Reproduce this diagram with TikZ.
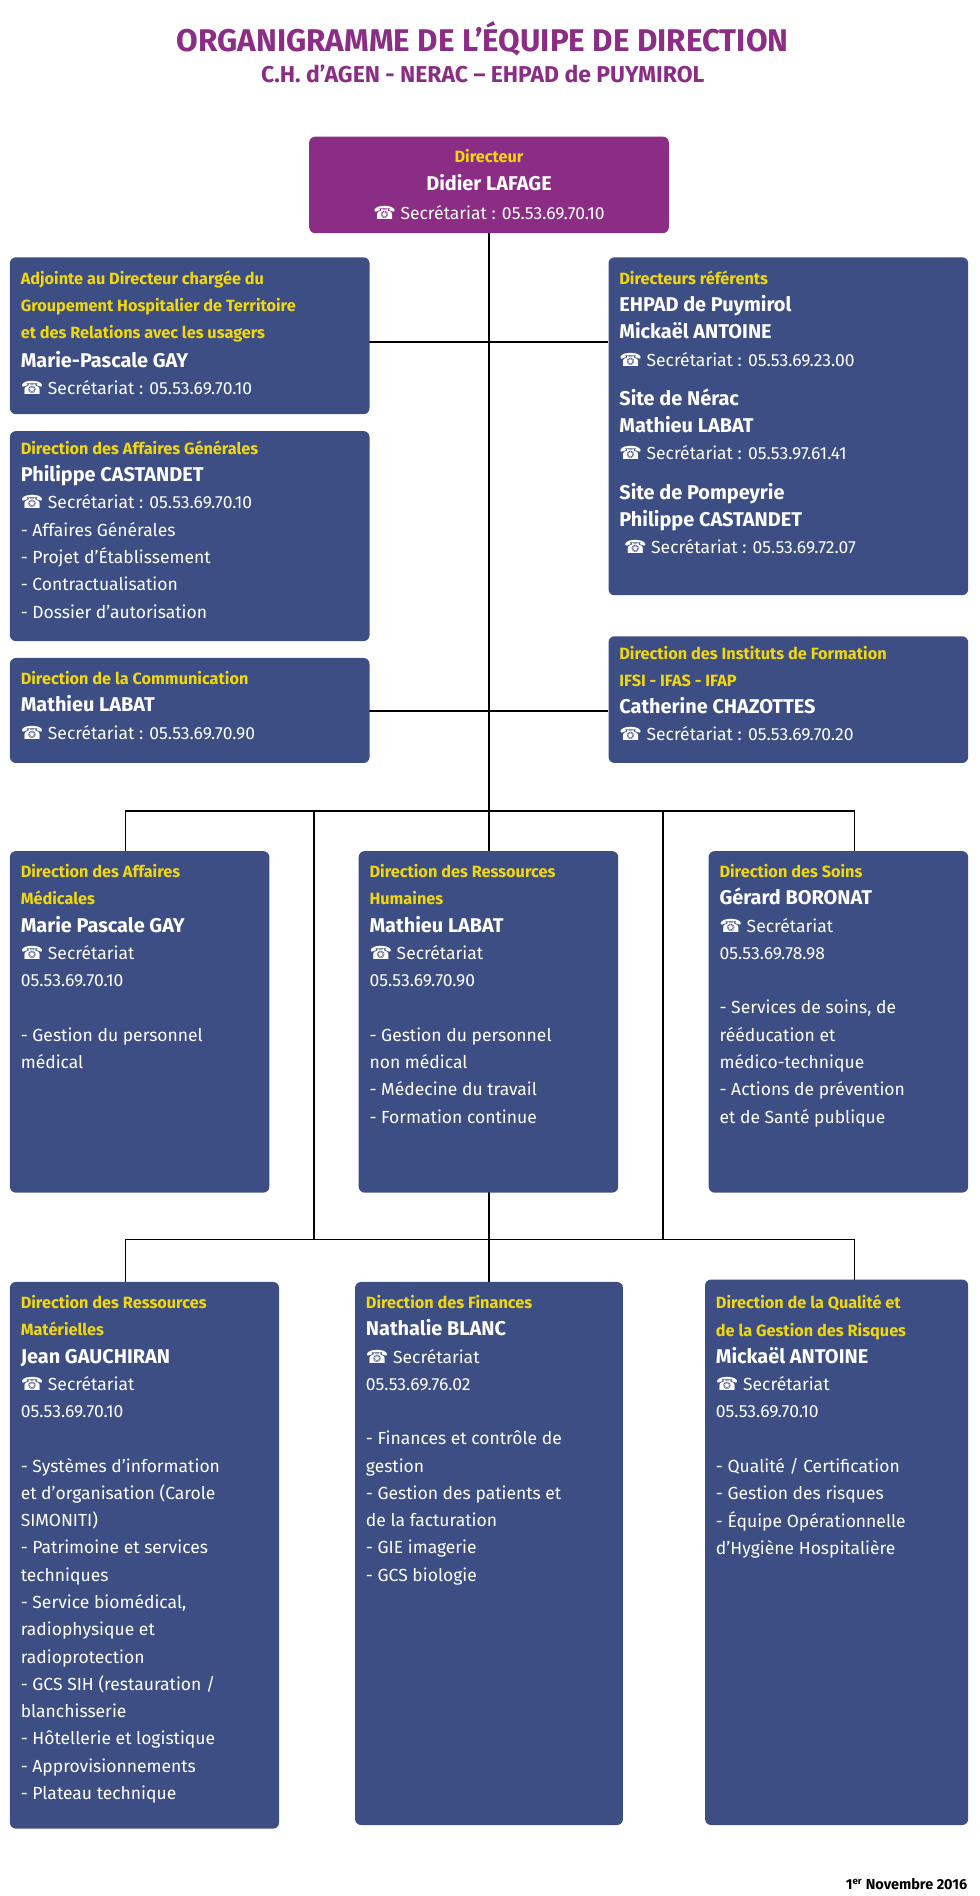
\documentclass[tikz,border=0pt]{standalone}
\usepackage{fontspec}
\setmainfont{Fira Sans}
\newfontfamily\symfont{DejaVu Sans}
\usepackage{xcolor}
\usetikzlibrary{positioning}
\definecolor{orgpurple}{HTML}{8B2D84}
\definecolor{orgblue}{HTML}{3D4E84}
\definecolor{orgyellow}{HTML}{F0D70F}
\newcommand{\hd}[1]{{\color{orgyellow}\bfseries\fontsize{13.5}{20}\selectfont #1}}
\newcommand{\nm}[1]{{\bfseries\fontsize{16.5}{23}\selectfont #1}}
\newcommand{\tel}{{\symfont\fontsize{15}{20}\selectfont ☎}\ }
\tikzset{
  orgbox/.style={fill=orgblue, rounded corners=5pt, inner sep=0pt, anchor=north west},
  orgtext/.style={text=white, align=left, inner sep=0pt, anchor=north west,
    font=\fontsize{14.5}{22.6}\selectfont},
  link/.style={line width=1.6pt, black}
}
\begin{document}
\begin{tikzpicture}[x=1pt, y=-1pt]
    \useasboundingbox (0,0) rectangle (812,1571);
    % Title
    \node[text=orgpurple, font=\bfseries\fontsize{26}{30}\selectfont] (title) at (400,32) {ORGANIGRAMME DE L’ÉQUIPE DE DIRECTION};
    \node[text=orgpurple, font=\bfseries\fontsize{19}{24}\selectfont] (subtitle) at (400,61) {C.H. d’AGEN - NERAC – EHPAD de PUYMIROL};

    % Connectors (drawn first, under the boxes)
    \coordinate (r2) at (405,672);
    \coordinate (r3) at (405,1027);
    \draw[link] (405,193) -- (405,1062);
    \draw[link] (306,283) -- (504,283);
    \draw[link] (306,589) -- (504,589);
    \draw[link] (104,705) -- (104,672) -- (708,672) -- (708,705);
    \draw[link] (104,1062) -- (104,1027) -- (708,1027) -- (708,1062);
    \draw[link] (260,672) -- (260,1027);
    \draw[link] (549,672) -- (549,1027);

    % Director
    \node[orgbox, fill=orgpurple, minimum width=298pt, minimum height=80pt] (dir) at (256,113) {};
    \node[text=white, align=center, font=\fontsize{14.5}{23.5}\selectfont, anchor=north] (dirtext) at ([yshift=-7pt]dir.north)
      {\hd{Directeur}\\ \nm{Didier LAFAGE}\\ \tel Secrétariat : 05.53.69.70.10};

    % Left column
    \node[orgbox, minimum width=298pt, minimum height=130pt] (adj) at (8,213) {};
    \node[orgtext] at ([shift={(9pt,-11pt)}]adj.north west)
      {\hd{Adjointe au Directeur chargée du}\\ \hd{Groupement Hospitalier de Territoire}\\ \hd{et des Relations avec les usagers}\\[1pt]
       \nm{Marie-Pascale GAY}\\ \tel Secrétariat : 05.53.69.70.10};

    \node[orgbox, minimum width=298pt, minimum height=174pt] (dag) at (8,357) {};
    \node[orgtext] at ([shift={(9pt,-8pt)}]dag.north west)
      {\hd{Direction des Affaires Générales}\\ \nm{Philippe CASTANDET}\\ \tel Secrétariat : 05.53.69.70.10\\
       - Affaires Générales\\ - Projet d’Établissement\\ - Contractualisation\\ - Dossier d’autorisation};

    \node[orgbox, minimum width=298pt, minimum height=87pt] (com) at (8,545) {};
    \node[orgtext] at ([shift={(9pt,-11pt)}]com.north west)
      {\hd{Direction de la Communication}\\ \nm{Mathieu LABAT}\\ \tel Secrétariat : 05.53.69.70.90};

    % Right column
    \node[orgbox, minimum width=298pt, minimum height=280pt] (ref) at (504,213) {};
    \node[orgtext] at ([shift={(9pt,-11pt)}]ref.north west)
      {\hd{Directeurs référents}\\ \nm{EHPAD de Puymirol}\\ \nm{Mickaël ANTOINE}\\ \tel Secrétariat : 05.53.69.23.00\\[10pt]
       \nm{Site de Nérac}\\ \nm{Mathieu LABAT}\\ \tel Secrétariat : 05.53.97.61.41\\[10pt]
       \nm{Site de Pompeyrie}\\ \nm{Philippe CASTANDET}\\ \ \tel Secrétariat : 05.53.69.72.07};

    \node[orgbox, minimum width=298pt, minimum height=105pt] (ifsi) at (504,527) {};
    \node[orgtext] at ([shift={(9pt,-8pt)}]ifsi.north west)
      {\hd{Direction des Instituts de Formation}\\ \hd{IFSI - IFAS - IFAP}\\ \nm{Catherine CHAZOTTES}\\ \tel Secrétariat : 05.53.69.70.20};

    % Row 2
    \node[orgbox, minimum width=215pt, minimum height=283pt] (dam) at (8,705) {};
    \node[orgtext] at ([shift={(9pt,-11pt)}]dam.north west)
      {\hd{Direction des Affaires}\\ \hd{Médicales}\\ \nm{Marie Pascale GAY}\\ \tel Secrétariat\\ 05.53.69.70.10\\[22.6pt]
       - Gestion du personnel\\ médical};

    \node[orgbox, minimum width=215pt, minimum height=283pt] (drh) at (297,705) {};
    \node[orgtext] at ([shift={(9pt,-11pt)}]drh.north west)
      {\hd{Direction des Ressources}\\ \hd{Humaines}\\ \nm{Mathieu LABAT}\\ \tel Secrétariat\\ 05.53.69.70.90\\[22.6pt]
       - Gestion du personnel\\ non médical\\ - Médecine du travail\\ - Formation continue};

    \node[orgbox, minimum width=215pt, minimum height=283pt] (soins) at (587,705) {};
    \node[orgtext] at ([shift={(9pt,-11pt)}]soins.north west)
      {\hd{Direction des Soins}\\ \nm{Gérard BORONAT}\\ \tel Secrétariat\\ 05.53.69.78.98\\[22.6pt]
       - Services de soins, de\\ rééducation et\\ médico-technique\\ - Actions de prévention\\ et de Santé publique};

    % Row 3
    \node[orgbox, minimum width=223pt, minimum height=453pt] (drm) at (8,1062) {};
    \node[orgtext] at ([shift={(9pt,-11pt)}]drm.north west)
      {\hd{Direction des Ressources}\\ \hd{Matérielles}\\ \nm{Jean GAUCHIRAN}\\ \tel Secrétariat\\ 05.53.69.70.10\\[22.6pt]
       - Systèmes d’information\\ et d’organisation (Carole\\ SIMONITI)\\ - Patrimoine et services\\ techniques\\
       - Service biomédical,\\ radiophysique et\\ radioprotection\\ - GCS SIH (restauration /\\ blanchisserie\\
       - Hôtellerie et logistique\\ - Approvisionnements\\ - Plateau technique};

    \node[orgbox, minimum width=222pt, minimum height=450pt] (fin) at (294,1062) {};
    \node[orgtext] at ([shift={(9pt,-11pt)}]fin.north west)
      {\hd{Direction des Finances}\\ \nm{Nathalie BLANC}\\ \tel Secrétariat\\ 05.53.69.76.02\\[22.6pt]
       - Finances et contrôle de\\ gestion\\ - Gestion des patients et\\ de la facturation\\ - GIE imagerie\\ - GCS biologie};

    \node[orgbox, minimum width=218pt, minimum height=452pt] (qual) at (584,1060) {};
    \node[orgtext] at ([shift={(9pt,-13pt)}]qual.north west)
      {\hd{Direction de la Qualité et}\\ \hd{de la Gestion des Risques}\\ \nm{Mickaël ANTOINE}\\ \tel Secrétariat\\ 05.53.69.70.10\\[22.6pt]
       - Qualité / Certification\\ - Gestion des risques\\ - Équipe Opérationnelle\\ d’Hygiène Hospitalière};

    % Date
    \node[anchor=east, font=\bfseries\fontsize{12}{14}\selectfont] (date) at (805,1561) {1\textsuperscript{er} Novembre 2016};
\end{tikzpicture}
\end{document}
